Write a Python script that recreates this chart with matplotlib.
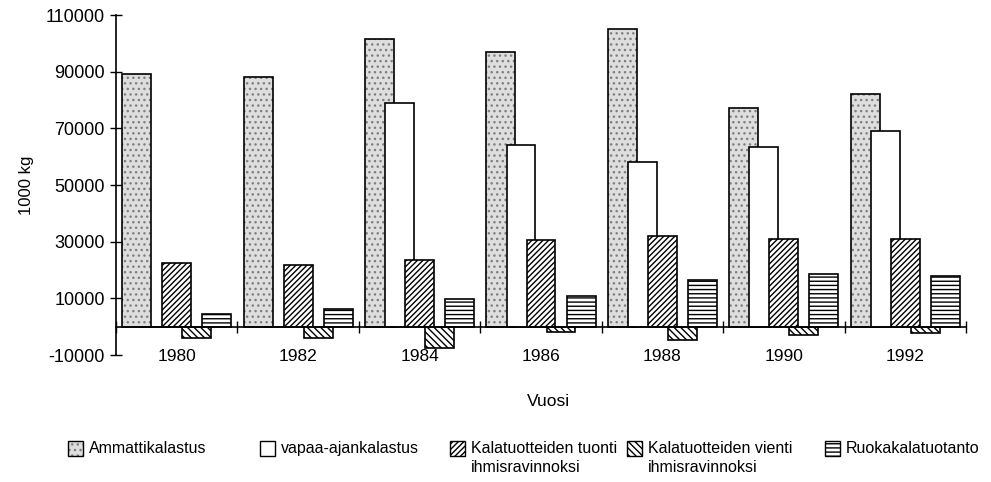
import matplotlib
matplotlib.use("Agg")
import matplotlib.pyplot as plt
from matplotlib.patches import Rectangle
import numpy as np

plt.rcParams['font.family'] = ['Liberation Sans', 'DejaVu Sans']
plt.rcParams['hatch.linewidth'] = 1.0

years = ['1980', '1982', '1984', '1986', '1988', '1990', '1992']

# 1000 kg
ammatti = [89100, 88100, 101700, 97000, 105000, 77200, 82200]
vapaa = [0, 0, 79100, 64200, 58200, 63500, 69000]
tuonti = [22400, 21700, 23600, 30600, 32000, 30900, 30900]
vienti = [-4000, -4100, -7700, -2000, -4800, -2800, -2300]
ruoka = [4500, 6400, 9700, 10800, 16400, 18600, 17800]

labels = ['Ammattikalastus', 'vapaa-ajankalastus',
          'Kalatuotteiden tuonti\nihmisravinnoksi',
          'Kalatuotteiden vienti\nihmisravinnoksi',
          'Ruokakalatuotanto']

yticks = [-10000, 10000, 30000, 50000, 70000, 90000, 110000]

STIPPLE = dict(facecolor='#dedede', edgecolor='#808080', hatch='...', linewidth=0)
styles = [
    None,
    dict(facecolor='white', edgecolor='black', hatch=None),
    dict(facecolor='white', edgecolor='black', hatch='//////'),
    dict(facecolor='white', edgecolor='black', hatch='\\\\\\\\\\'),
    dict(facecolor='white', edgecolor='black', hatch='----'),
]


def draw_bars(ax):
    x = np.arange(len(years))
    step = 0.165
    width = 0.238
    series = [ammatti, vapaa, tuonti, vienti, ruoka]
    for k, vals in enumerate(series):
        pos = x + (k - 2) * step
        if k == 0:
            ax.bar(pos, vals, width, **STIPPLE)
            ax.bar(pos, vals, width, fill=False, edgecolor='black', linewidth=1.2)
        else:
            ax.bar(pos, vals, width, linewidth=1.2, **styles[k])


def draw_legend(fig):
    W, H = 991.0, 482.0
    xs = [68, 260, 450, 627, 825]
    for k, lab in enumerate(labels):
        x0 = xs[k]
        box = ((x0 / W, 1 - 456 / H), 15 / W, 15 / H)
        if k == 0:
            fig.patches.append(Rectangle(*box, transform=fig.transFigure, **STIPPLE))
            fig.patches.append(Rectangle(*box, transform=fig.transFigure, fill=False,
                                         edgecolor='black', linewidth=1.0))
        else:
            fig.patches.append(Rectangle(*box, transform=fig.transFigure,
                                         linewidth=1.0, **styles[k]))
        fig.text((x0 + 21) / W, 1 - 441 / H, lab, fontsize=11.5, va='top',
                 ha='left', linespacing=1.35)


fig = plt.figure(figsize=(9.91, 4.82), dpi=100)
ax = fig.add_axes([116 / 991, 1 - 355 / 482, 850 / 991, 340 / 482])

draw_bars(ax)

ax.set_xlim(-0.5, len(years) - 0.5)
ax.set_ylim(-10000, 110000)
ax.set_yticks(yticks)
ax.set_yticklabels([str(v) for v in yticks], fontsize=13)
ax.tick_params(axis='y', direction='inout', length=8, width=1, pad=4)

ax.spines['top'].set_visible(False)
ax.spines['right'].set_visible(False)
ax.spines['bottom'].set_position(('data', 0))
ax.spines['left'].set_linewidth(1.2)
ax.spines['bottom'].set_linewidth(1.2)

ax.set_xticks(np.arange(len(years) + 1) - 0.5)
ax.set_xticklabels([])
ax.set_xticks(np.arange(len(years)), minor=True)
ax.set_xticklabels(years, minor=True, fontsize=12.5)
ax.tick_params(axis='x', which='major', direction='inout', length=8, width=1)
ax.tick_params(axis='x', which='minor', length=0, pad=16)

ax.set_ylabel('1000 kg', fontsize=12)
ax.yaxis.set_label_coords(-0.097, 0.5)
fig.text(548 / 991, 1 - 402 / 482, 'Vuosi', fontsize=12.5, ha='center', va='center')

draw_legend(fig)

fig.savefig('out.png', dpi=100)
